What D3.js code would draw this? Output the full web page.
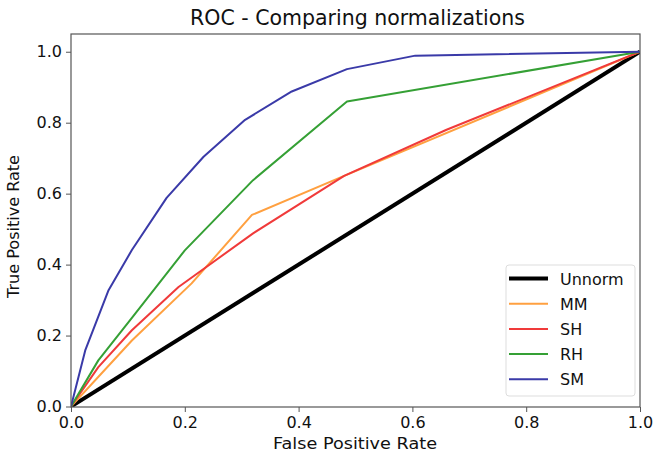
<!DOCTYPE html>
<html>
<head>
<meta charset="utf-8">
<script src="https://cdn.jsdelivr.net/npm/d3@7"></script>
<style>
  body { margin: 0; background: #fff; }
  text { font-family: "DejaVu Sans", sans-serif; fill: #111; }
  .axis path, .axis line { stroke: #555; }
  .axis text { font-size: 16px; fill: #111; }
</style>
</head>
<body>
<svg id="chart" width="655" height="461"></svg>
<script>
// ROC curves
var unnormFpr = [0, 1];
var unnormTpr = [0, 1];
var mmFpr = [0, 0.107, 0.212, 0.318, 0.48, 1];
var mmTpr = [0, 0.186, 0.347, 0.54, 0.65, 1];
var shFpr = [0, 0.048, 0.107, 0.189, 0.32, 0.48, 0.66, 1];
var shTpr = [0, 0.111, 0.215, 0.337, 0.488, 0.65, 0.78, 1];
var rhFpr = [0, 0.048, 0.107, 0.2, 0.32, 0.485, 1];
var rhTpr = [0, 0.13, 0.25, 0.44, 0.638, 0.86, 1];
var smFpr = [0, 0.025, 0.066, 0.107, 0.168, 0.233, 0.306, 0.388, 0.485, 0.605, 1];
var smTpr = [0, 0.158, 0.328, 0.441, 0.588, 0.704, 0.808, 0.888, 0.951, 0.989, 1];
var seriesNames = ["Unnorm", "MM", "SH", "RH", "SM"];
var seriesColors = ["#000000", "#ffa040", "#f03a3a", "#35a035", "#3a3aa8"];
var seriesWidths = [4, 2, 2, 2, 2];
var tickValues = [0, 0.2, 0.4, 0.6, 0.8, 1.0];

var allFpr = [unnormFpr, mmFpr, shFpr, rhFpr, smFpr];
var allTpr = [unnormTpr, mmTpr, shTpr, rhTpr, smTpr];

var plotLeft = 71, plotRight = 640, plotTop = 34, plotBottom = 407;
var svg = d3.select("#chart");

var x = d3.scaleLinear().domain([0, 1]).range([plotLeft, plotRight]);
var y = d3.scaleLinear().domain([0, 1.05]).range([plotBottom - 0.5, plotTop]);

var line = d3.line()
    .x(function(d) { return x(d[0]); })
    .y(function(d) { return y(d[1]); });

// clip so the thick lines stay inside the frame
svg.append("clipPath").attr("id", "clip")
  .append("rect").attr("x", plotLeft).attr("y", plotTop)
  .attr("width", plotRight - plotLeft).attr("height", plotBottom - plotTop);

var plot = svg.append("g").attr("clip-path", "url(#clip)");
seriesNames.forEach(function(name, i) {
    var pts = allFpr[i].map(function(f, j) { return [f, allTpr[i][j]]; });
    plot.append("path")
        .datum(pts)
        .attr("d", line)
        .attr("fill", "none")
        .attr("stroke", seriesColors[i])
        .attr("stroke-width", seriesWidths[i])
        .attr("stroke-linejoin", "round");
});

// frame
svg.append("rect")
    .attr("x", plotLeft).attr("y", plotTop)
    .attr("width", plotRight - plotLeft).attr("height", plotBottom - plotTop)
    .attr("fill", "none").attr("stroke", "#555").attr("stroke-width", 1.2);

svg.append("g")
    .attr("class", "axis")
    .attr("transform", "translate(0," + plotBottom + ")")
    .call(d3.axisBottom(x).tickValues(tickValues).tickFormat(d3.format(".1f")).tickSizeOuter(0).tickSize(5).tickPadding(5))
    .call(function(g) { g.select(".domain").remove(); });

svg.append("g")
    .attr("class", "axis")
    .attr("transform", "translate(" + plotLeft + ",0)")
    .call(d3.axisLeft(y).tickValues(tickValues).tickFormat(d3.format(".1f")).tickSizeOuter(0).tickSize(5).tickPadding(4))
    .call(function(g) { g.select(".domain").remove(); });

svg.append("text")
    .attr("x", 190).attr("y", 25)
    .attr("textLength", 335).attr("lengthAdjust", "spacingAndGlyphs")
    .style("font-size", "21px")
    .text("ROC - Comparing normalizations");

svg.append("text")
    .attr("x", 273).attr("y", 449)
    .attr("textLength", 164).attr("lengthAdjust", "spacingAndGlyphs")
    .style("font-size", "16.5px")
    .text("False Positive Rate");

svg.append("text")
    .attr("transform", "translate(19,298) rotate(-90)")
    .attr("textLength", 143).attr("lengthAdjust", "spacingAndGlyphs")
    .style("font-size", "16px")
    .text("True Positive Rate");

// legend
var legend = svg.append("g");
legend.append("rect")
    .attr("x", 506).attr("y", 265)
    .attr("width", 129).attr("height", 131)
    .attr("rx", 3)
    .attr("fill", "#fff").attr("fill-opacity", 0.8)
    .attr("stroke", "#ddd");
seriesNames.forEach(function(name, i) {
    var ly = 278.5 + i * 25.2;
    legend.append("line")
        .attr("x1", 509).attr("x2", 548)
        .attr("y1", ly).attr("y2", ly)
        .attr("stroke", seriesColors[i])
        .attr("stroke-width", seriesWidths[i]);
    legend.append("text")
        .attr("x", 560).attr("y", ly + 6)
        .style("font-size", "16px")
        .text(name);
});
</script>
</body>
</html>
